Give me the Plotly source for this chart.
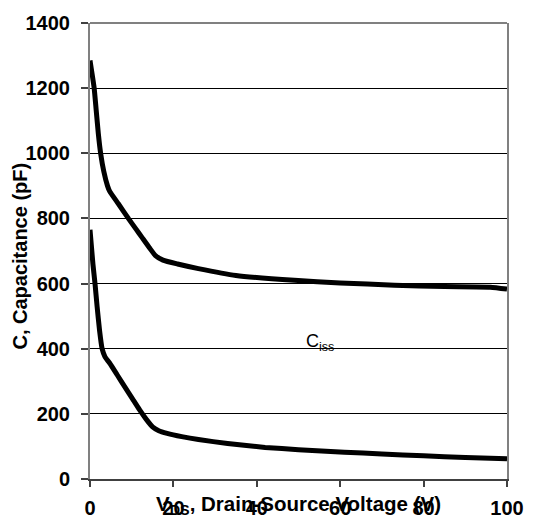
import plotly.graph_objects as go

# Data
v_upper = [0, 0.3, 0.6, 1.0, 1.5, 2.0, 2.55, 3.3, 4.2, 4.7, 6.8, 9.2, 11, 12.5, 14.3, 15.7, 17.5, 21, 26, 35, 49, 60, 73, 85, 96, 100]
c_upper = [1285, 1260, 1235, 1200, 1130, 1060, 1000, 945, 900, 884, 845, 800, 768, 741, 709, 686, 672, 660, 646, 625, 610, 602, 595, 591, 589, 583]

v_lower = [0, 0.3, 0.7, 1.2, 1.7, 2.3, 2.9, 3.6, 4.7, 6.5, 8.5, 10.2, 11.9, 13.5, 15.0, 16.5, 18.5, 22, 26, 33, 42, 50, 61, 70, 80, 90, 100]
c_lower = [765, 720, 660, 600, 530, 455, 400, 375, 356, 320, 280, 246, 212, 183, 160, 148, 140, 130, 121, 109, 97, 90, 82, 77, 71, 66, 62]

x_ticks = [0, 20, 40, 60, 80, 100]
y_ticks = [0, 200, 400, 600, 800, 1000, 1200, 1400]

FONT = "Liberation Sans, Arial, sans-serif"

fig = go.Figure()
fig.add_trace(go.Scatter(x=v_upper, y=c_upper, mode="lines",
                         line=dict(color="black", width=5, shape="spline", smoothing=0.5),
                         showlegend=False))
fig.add_trace(go.Scatter(x=v_lower, y=c_lower, mode="lines",
                         line=dict(color="black", width=5, shape="spline", smoothing=0.5),
                         showlegend=False))

fig.update_layout(
    width=536, height=531,
    margin=dict(l=90, r=20, t=21, b=42),
    paper_bgcolor="white", plot_bgcolor="white",
    font=dict(family=FONT, color="black"),
    showlegend=False,
)
fig.update_xaxes(
    range=[0, 100], tickvals=x_ticks, showgrid=False, zeroline=False,
    showline=True, linecolor="#404040", linewidth=2, mirror=False,
    ticks="outside", ticklen=6, tickcolor="#404040", tickwidth=2,
    tickfont=dict(family=FONT, size=20, weight="bold", color="black"),
    ticklabelstandoff=4,
)
fig.update_yaxes(
    range=[0, 1400], tickvals=y_ticks, showgrid=True, gridcolor="black", gridwidth=1,
    zeroline=False, showline=True, linecolor="#808080", linewidth=2, mirror=True,
    ticks="outside", ticklen=7, tickcolor="#404040", tickwidth=2,
    tickfont=dict(family=FONT, size=20, weight="bold", color="black"),
    ticklabelstandoff=7,
)
fig.add_shape(type="line", xref="paper", yref="paper", x0=0, x1=1, y0=1, y1=1,
              line=dict(color="#808080", width=2))

fig.add_annotation(text="C, Capacitance (pF)", textangle=-90, xref="paper", yref="paper",
                   x=-0.169, y=0.489, showarrow=False, xanchor="center", yanchor="middle",
                   font=dict(family=FONT, size=20, weight="bold", color="black"))
fig.add_annotation(text="V<sub>DS</sub>, Drain-Source Voltage (V)", xref="paper", yref="paper",
                   x=0.1526, y=-0.058, showarrow=False, xanchor="left", yanchor="middle",
                   font=dict(family=FONT, size=20.5, weight="bold", color="black"))
fig.add_annotation(text="C<sub>iss</sub>", xref="x", yref="y", x=51.2, y=420,
                   showarrow=False, xanchor="left", yanchor="middle",
                   font=dict(family=FONT, size=18, color="black"))

fig.write_html("out.html")
